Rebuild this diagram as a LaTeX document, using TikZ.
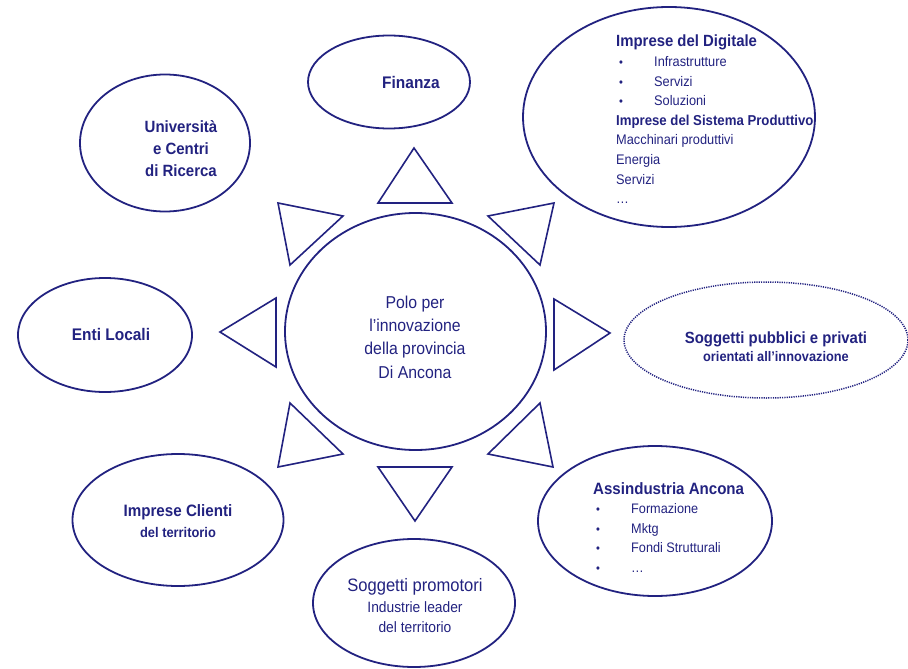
\documentclass[tikz,border=0pt]{standalone}
\usepackage{fontspec}
\setmainfont{Liberation Sans}[FakeStretch=0.92]
\usetikzlibrary{shapes.geometric}
\definecolor{navy}{RGB}{34,34,128}
\newcommand{\fsz}[2]{\fontsize{#1}{#2}\selectfont}
\newcommand{\itm}{\hspace*{3pt}\makebox[35pt][l]{\fsz{12}{12}\textbullet}}
\tikzset{
  blob/.style={draw=navy,line width=1.8pt,ellipse,inner sep=0pt},
  spike/.style={draw=navy,line width=1.6pt,line join=miter},
  txt/.style={inner sep=0pt,text=navy,align=center}
}

\begin{document}
\begin{tikzpicture}[x=1pt,y=-1pt]
\useasboundingbox (0,0) rectangle (908,669);

% centre
\node[blob,minimum width=261pt,minimum height=237pt] (polo) at (415.5,331.5) {};
\node[txt,font=\fsz{17.2}{23.3}] (polot) at (415,337) {Polo per\\l'innovazione\\della provincia\\Di Ancona};

% partner ellipses
\node[blob,minimum width=162pt,minimum height=93pt] (finanza) at (389,82) {};
\node[txt,font=\fsz{16.8}{20}\bfseries] (finanzat) at (411,82) {Finanza};

\node[blob,minimum width=170pt,minimum height=137pt] (univ) at (165,143) {};
\node[txt,font=\fsz{16.3}{22}\bfseries] (univt) at (181,149) {Università\\e Centri\\di Ricerca};

\node[blob,minimum width=174pt,minimum height=114pt] (enti) at (105,335) {};
\node[txt,font=\fsz{16.8}{20}\bfseries] (entit) at (111,334) {Enti Locali};

\node[blob,minimum width=211pt,minimum height=132pt] (clienti) at (178,520) {};
\node[txt,font=\fsz{16.5}{21}\bfseries] (clientit) at (178,521)
  {Imprese Clienti\\{\fsz{14}{21}del territorio}};

\node[blob,minimum width=202pt,minimum height=128pt] (promo) at (414,603) {};
\node[txt,font=\fsz{15}{20.5}] (promot) at (415,606)
  {{\fsz{18}{20.5}Soggetti promotori}\\Industrie leader\\del territorio};

\node[blob,minimum width=234pt,minimum height=150pt] (assind) at (655,521) {};
\node[txt,anchor=north west,align=left,font=\fsz{13.8}{19.6}] (assindt) at (593,482)
  {{\fsz{16.4}{19.6}\bfseries Assindustria Ancona}\\\itm Formazione\\\itm Mktg\\\itm Fondi Strutturali\\\itm \dots};

\node[blob,dash pattern=on 1.2pt off 1.1pt,line width=1.5pt,minimum width=284pt,minimum height=116pt] (sogg) at (766,340) {};
\node[txt,font=\fsz{16.2}{18}\bfseries] (soggt) at (776,347)
  {Soggetti pubblici e privati\\{\fsz{13.9}{18}orientati all'innovazione}};

\node[blob,minimum width=292pt,minimum height=220pt] (digit) at (669,117) {};
\node[txt,anchor=north west,align=left,font=\fsz{13.9}{19.6}] (digitt) at (616,35)
  {{\fsz{16.2}{19.6}\bfseries Imprese del Digitale}\\\itm Infrastrutture\\\itm Servizi\\\itm Soluzioni\\
   {\fsz{14.35}{19.6}\bfseries Imprese del Sistema Produttivo}\\Macchinari produttivi\\Energia\\Servizi\\\dots};

% spikes round the centre
\draw[spike] (414,148) -- (378,203) -- (452,203) -- cycle;
\draw[spike] (415,521) -- (378,467) -- (452,467) -- cycle;
\draw[spike] (220,332) -- (276,298) -- (276,367) -- cycle;
\draw[spike] (610,333) -- (554,299) -- (554,370) -- cycle;
\draw[spike] (278,203) -- (343,216) -- (290,265) -- cycle;
\draw[spike] (554,203) -- (488,216) -- (540,265) -- cycle;
\draw[spike] (278,467) -- (343,454) -- (290,403) -- cycle;
\draw[spike] (553,467) -- (488,454) -- (540,403) -- cycle;
\end{tikzpicture}
\end{document}
